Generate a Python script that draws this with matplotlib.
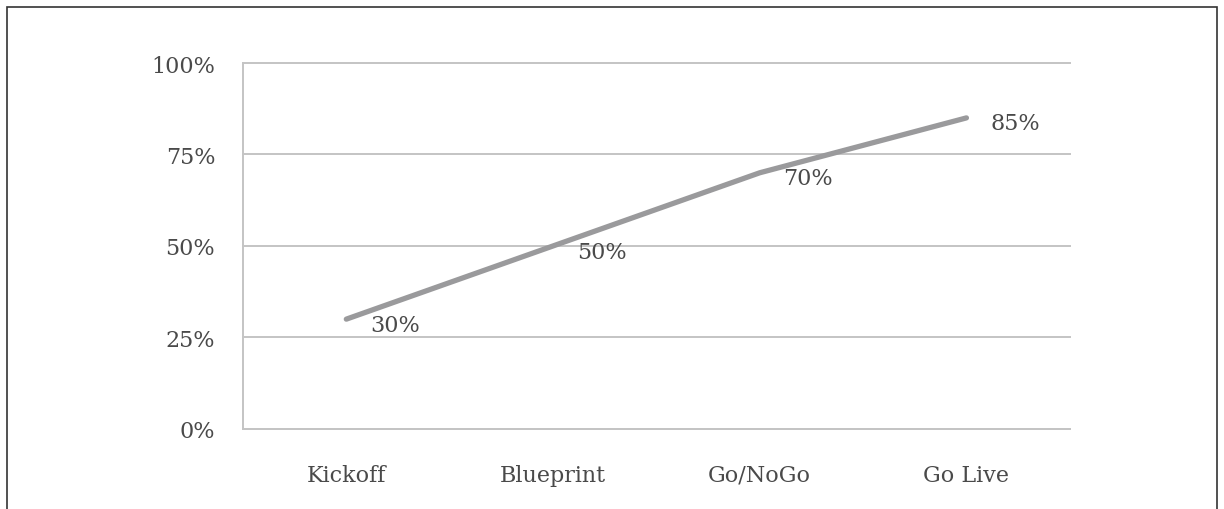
import matplotlib
matplotlib.use('Agg')
import matplotlib.pyplot as plt
from matplotlib.patches import Rectangle

# ── Data ──────────────────────────────────────────────────────
stages   = ['Kickoff', 'Blueprint', 'Go/NoGo', 'Go Live']
progress = [30, 50, 70, 85]
y_ticks  = [0, 25, 50, 75, 100]

TEXT  = '#4a4a4a'
GRID  = '#c4c4c4'
LINE  = '#9a9a9c'

plt.rcParams['font.family'] = ['DejaVu Serif']

fig = plt.figure(figsize=(12.24, 5.10), dpi=100)
ax = fig.add_axes([0.1985, 0.157, 0.6755, 0.7175])

x = list(range(len(stages)))
ax.plot(x, progress, color=LINE, linewidth=3.8, solid_capstyle='round', zorder=3)

for xi, v in zip(x, progress):
    ax.annotate(f'{v}%', (xi, v), xytext=(17, -4), textcoords='offset points',
                ha='left', va='center', fontsize=16, color=TEXT, zorder=4)

ax.set_xlim(-0.5, len(stages) - 0.5)
ax.set_ylim(0, 100)
ax.set_yticks(y_ticks)
ax.set_yticklabels([f'{t}%' for t in y_ticks])
ax.set_xticks(x)
ax.set_xticklabels(stages)
ax.tick_params(axis='both', length=0, labelsize=16, labelcolor=TEXT)
ax.tick_params(axis='y', pad=20)
ax.tick_params(axis='x', pad=25)

ax.yaxis.grid(True, color=GRID, linewidth=1.4)
for gl in ax.get_ygridlines():
    gl.set_clip_on(False)
ax.set_axisbelow(True)
for side in ['top', 'right']:
    ax.spines[side].set_visible(False)
for side in ['left', 'bottom']:
    ax.spines[side].set_color(GRID)
    ax.spines[side].set_linewidth(1.4)

# outer frame of the figure
fig.patches.append(Rectangle((7 / 1224, -0.05), 1210 / 1224, 1.05 - 8 / 510,
                             transform=fig.transFigure, fill=False,
                             edgecolor='#333333', linewidth=1.2))

fig.savefig('out.png', dpi=100)
